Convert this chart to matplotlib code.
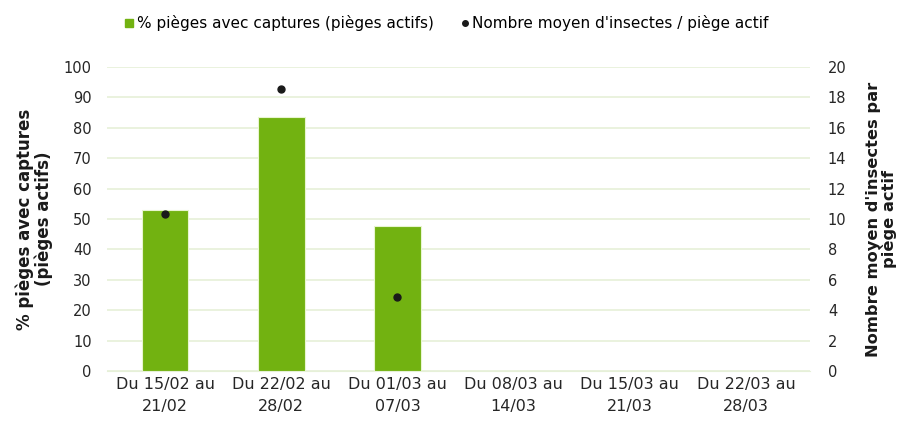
import matplotlib
matplotlib.use("Agg")
import matplotlib.pyplot as plt
from matplotlib.lines import Line2D
import numpy as np

categories = ["Du 15/02 au\n21/02", "Du 22/02 au\n28/02", "Du 01/03 au\n07/03",
              "Du 08/03 au\n14/03", "Du 15/03 au\n21/03", "Du 22/03 au\n28/03"]
pct_captures = [53.0, 83.6, 47.7, np.nan, np.nan, np.nan]
mean_insects = [10.3, 18.55, 4.85, np.nan, np.nan, np.nan]

plt.rcParams['font.family'] = ['DejaVu Sans']
fig = plt.figure(figsize=(9.11, 4.21), dpi=100)
ax = fig.add_axes([0.1175, 0.1188, 0.7715, 0.7221])
ax2 = ax.twinx()

x = np.arange(len(categories))
green = '#72b211'
grid_c = '#e6f0d8'
ax.bar(x, pct_captures, width=0.40, color=green, edgecolor='#e8f5d0', linewidth=0.8, zorder=3,
       label='% pièges avec captures (pièges actifs)')
ax2.plot(x, mean_insects, 'o', color='#1a1a1a', markersize=5, zorder=4, linestyle='none',
         label="Nombre moyen d'insectes / piège actif")

ax.set_xlim(-0.5, len(categories) - 0.5 + 0.05)
ax.set_ylim(0, 100)
ax2.set_ylim(0, 20)
ax.set_yticks(np.arange(0, 101, 10))
ax2.set_yticks(np.arange(0, 21, 2))
ax.set_xticks(x)
ax.set_xticklabels(categories, fontsize=11.5, color='#262626', linespacing=1.65)
ax.yaxis.grid(True, color=grid_c, linewidth=1.2, zorder=0)
ax.set_axisbelow(True)

for a in (ax, ax2):
    for s in a.spines.values():
        s.set_visible(False)
    a.tick_params(axis='y', length=0, labelsize=10.5, colors='#262626')
ax.tick_params(axis='x', length=0, colors='#262626')
ax.spines['bottom'].set_visible(True)
ax.spines['bottom'].set_color(grid_c)
ax.tick_params(axis='y', pad=11)
ax2.tick_params(axis='y', pad=13)
ax.tick_params(axis='x', pad=4)

ax.set_ylabel('% pièges avec captures\n(pièges actifs)', fontsize=12, fontweight='bold',
              color='#1a1a1a', linespacing=1.0, labelpad=8)
ax2.set_ylabel("Nombre moyen d'insectes par\npiège actif", fontsize=11.7, fontweight='bold',
               color='#1a1a1a', linespacing=1.0, labelpad=14)

h1, l1 = ax.get_legend_handles_labels()
h2, l2 = ax2.get_legend_handles_labels()
hb = Line2D([0], [0], marker='s', color='none', markerfacecolor=green, markeredgecolor=green, markersize=6)
hd = Line2D([0], [0], marker='o', color='none', markerfacecolor='#1a1a1a', markeredgecolor='#1a1a1a', markersize=4)
fig.legend([hb, hd], [l1[0], l2[0]], loc='center', bbox_to_anchor=(0.4895, 0.945), ncol=2,
           frameon=False, fontsize=11, handletextpad=0.1, columnspacing=1.6, handlelength=0.8)

fig.savefig('out.png', dpi=100)
